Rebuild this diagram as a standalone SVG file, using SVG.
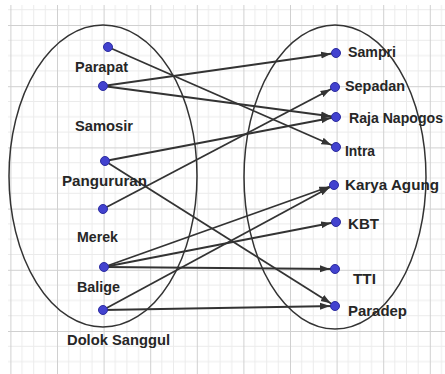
<svg xmlns="http://www.w3.org/2000/svg" width="445" height="374" viewBox="0 0 445 374">
<defs>
<pattern id="grid" patternUnits="userSpaceOnUse" x="10.4" y="25" width="46.6" height="61.2">
<path d="M11.65,0V61.2M23.3,0V61.2M34.95,0V61.2M0,15.3H46.6M0,30.6H46.6M0,45.9H46.6" stroke="#ebebeb" stroke-width="1" fill="none"/>
<path d="M0.5,0V61.2M0,0.5H46.6" stroke="#d0d0d0" stroke-width="1" fill="none"/>
</pattern>
<marker id="ah" markerUnits="userSpaceOnUse" markerWidth="12" markerHeight="8" refX="15" refY="4" orient="auto">
<path d="M0,0.5 L10,4 L0,7.5 z" fill="#333"/>
</marker>
<style>
.lbl{font-family:"Liberation Sans",Arial,sans-serif;font-size:14.5px;font-weight:bold;fill:#262626}
.set{fill:none;stroke:#333;stroke-width:1.5}
.dot{fill:#4242cf;stroke:#2c2ca0;stroke-width:1}
.edge{stroke:#333;stroke-width:1.8;marker-end:url(#ah)}
</style>
</defs>
<rect width="445" height="374" fill="#fff"/>
<rect x="8" y="5" width="437" height="369" fill="url(#grid)"/>
<g id="sets">
<ellipse class="set" cx="103" cy="176" rx="94" ry="151"/>
<ellipse class="set" cx="335" cy="177" rx="91" ry="152"/>
</g>
<g id="connectors">
<line class="edge" x1="108" y1="47" x2="336" y2="147"/>
<line class="edge" x1="103" y1="86" x2="336" y2="53"/>
<line class="edge" x1="103" y1="86" x2="336" y2="117"/>
<line class="edge" x1="105" y1="161" x2="336" y2="117"/>
<line class="edge" x1="105" y1="161" x2="335" y2="306"/>
<line class="edge" x1="103" y1="209" x2="335" y2="87"/>
<line class="edge" x1="104" y1="267" x2="334" y2="185"/>
<line class="edge" x1="104" y1="267" x2="336" y2="222"/>
<line class="edge" x1="104" y1="267" x2="335" y2="269"/>
<line class="edge" x1="103" y1="310" x2="334" y2="185"/>
<line class="edge" x1="103" y1="310" x2="335" y2="306"/>
</g>
<g id="samosir-label"><text class="lbl" x="75" y="131" textLength="58" lengthAdjust="spacingAndGlyphs">Samosir</text></g>
<g id="parapat"><circle class="dot" cx="108" cy="47" r="4.5"/><circle class="dot" cx="103" cy="86" r="4.5"/><text class="lbl" x="75" y="72" textLength="53" lengthAdjust="spacingAndGlyphs">Parapat</text></g>
<g id="pangururan"><circle class="dot" cx="105" cy="161" r="4.5"/><text class="lbl" x="62" y="186" textLength="85" lengthAdjust="spacingAndGlyphs">Pangururan</text></g>
<g id="merek"><circle class="dot" cx="103" cy="209" r="4.5"/><text class="lbl" x="77" y="242" textLength="41" lengthAdjust="spacingAndGlyphs">Merek</text></g>
<g id="balige"><circle class="dot" cx="104" cy="267" r="4.5"/><text class="lbl" x="77" y="292" textLength="43" lengthAdjust="spacingAndGlyphs">Balige</text></g>
<g id="dolok-sanggul"><circle class="dot" cx="103" cy="310" r="4.5"/><text class="lbl" x="67" y="345" textLength="103" lengthAdjust="spacingAndGlyphs">Dolok Sanggul</text></g>
<g id="sampri"><circle class="dot" cx="336" cy="53" r="4.5"/><text class="lbl" x="348" y="57" textLength="48" lengthAdjust="spacingAndGlyphs">Sampri</text></g>
<g id="sepadan"><circle class="dot" cx="335" cy="87" r="4.5"/><text class="lbl" x="345" y="91" textLength="60" lengthAdjust="spacingAndGlyphs">Sepadan</text></g>
<g id="raja-napogos"><circle class="dot" cx="336" cy="117" r="4.5"/><text class="lbl" x="349" y="123" textLength="94" lengthAdjust="spacingAndGlyphs">Raja Napogos</text></g>
<g id="intra"><circle class="dot" cx="336" cy="147" r="4.5"/><text class="lbl" x="345" y="156" textLength="30" lengthAdjust="spacingAndGlyphs">Intra</text></g>
<g id="karya-agung"><circle class="dot" cx="334" cy="185" r="4.5"/><text class="lbl" x="345" y="190" textLength="94" lengthAdjust="spacingAndGlyphs">Karya Agung</text></g>
<g id="kbt"><circle class="dot" cx="336" cy="222" r="4.5"/><text class="lbl" x="348" y="229" textLength="31" lengthAdjust="spacingAndGlyphs">KBT</text></g>
<g id="tti"><circle class="dot" cx="335" cy="269" r="4.5"/><text class="lbl" x="353" y="284" textLength="23" lengthAdjust="spacingAndGlyphs">TTI</text></g>
<g id="paradep"><circle class="dot" cx="335" cy="306" r="4.5"/><text class="lbl" x="348" y="316" textLength="59" lengthAdjust="spacingAndGlyphs">Paradep</text></g>
</svg>
